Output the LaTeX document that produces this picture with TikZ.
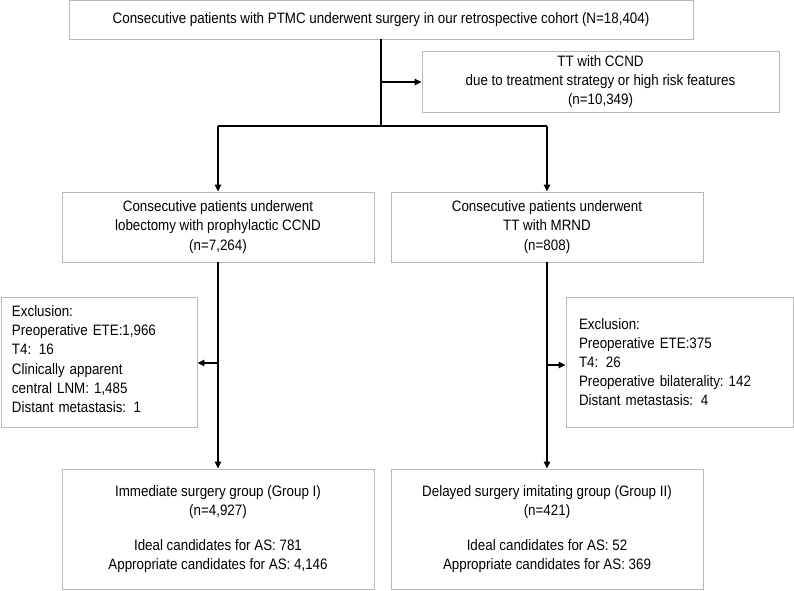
\documentclass[tikz,border=0pt]{standalone}
\usepackage{fontspec}
\setmainfont{Liberation Sans}[FakeStretch=0.885]
\usetikzlibrary{arrows.meta}
\begin{document}
\begin{tikzpicture}[x=1pt,y=-1pt,
  box/.style={draw=black!28, line width=0.9pt, fill=white, inner sep=0pt,
    font=\fontsize{15.1}{19.2}\selectfont, align=center},
  conn/.style={line width=1.3pt, black},
  arr/.style={conn, -{Triangle[length=7pt,width=6.5pt]}}]
\useasboundingbox (0,0) rectangle (794,590);
\node[box, minimum width=624, minimum height=39] (top) at (381,19.5)
  {Consecutive patients with PTMC underwent surgery in our retrospective cohort (N=18,404)};
\node[box, minimum width=357, minimum height=61] (tt) at (600.5,81.5)
  {TT with CCND\\due to treatment strategy or high risk features\\(n=10,349)};
\node[box, minimum width=312, minimum height=70] (ml) at (218,227)
  {Consecutive patients underwent\\lobectomy with prophylactic CCND\\(n=7,264)};
\node[box, minimum width=312, minimum height=70] (mr) at (547,227)
  {Consecutive patients underwent\\TT with MRND\\(n=808)};
\node[box, minimum width=196, minimum height=130, text width=174, inner xsep=11pt, align=left] (el) at (99,362)
  {\\[-14.2pt]Exclusion:\\Preoperative ETE:1,966\\T4: 16\\Clinically apparent\\central LNM: 1,485\\Distant metastasis: 1};
\node[box, minimum width=227, minimum height=130, text width=201, inner xsep=13pt, align=left] (er) at (679.5,362)
  {Exclusion:\\Preoperative ETE:375\\T4: 26\\Preoperative bilaterality:~142\\Distant metastasis: 4\\[4pt]};
\node[box, minimum width=312, minimum height=120] (bl) at (218,529)
  {Immediate surgery group (Group I)\\(n=4,927)\\[16pt]Ideal candidates for AS: 781\\Appropriate candidates for AS: 4,146};
\node[box, minimum width=312, minimum height=120] (br) at (547,529)
  {Delayed surgery imitating group (Group II)\\(n=421)\\[16pt]Ideal candidates for AS: 52\\Appropriate candidates for AS: 369};
\coordinate (split) at (381,126);
\coordinate (tbranch) at (381,82);
\coordinate (lsplit) at (218,126);
\coordinate (rsplit) at (547,126);
\coordinate (lex) at (218,363);
\coordinate (rex) at (547,365);
\draw[conn] (top.south) -- (split);
\draw[arr] (tbranch) -- (tbranch -| tt.west);
\draw[conn] (lsplit) -- (rsplit);
\draw[arr] (lsplit) -- (ml.north);
\draw[arr] (rsplit) -- (mr.north);
\draw[arr] (ml.south) -- (bl.north);
\draw[arr] (mr.south) -- (br.north);
\draw[arr] (lex) -- (lex -| el.east);
\draw[arr] (rex) -- (rex -| er.west);
\end{tikzpicture}
\end{document}
